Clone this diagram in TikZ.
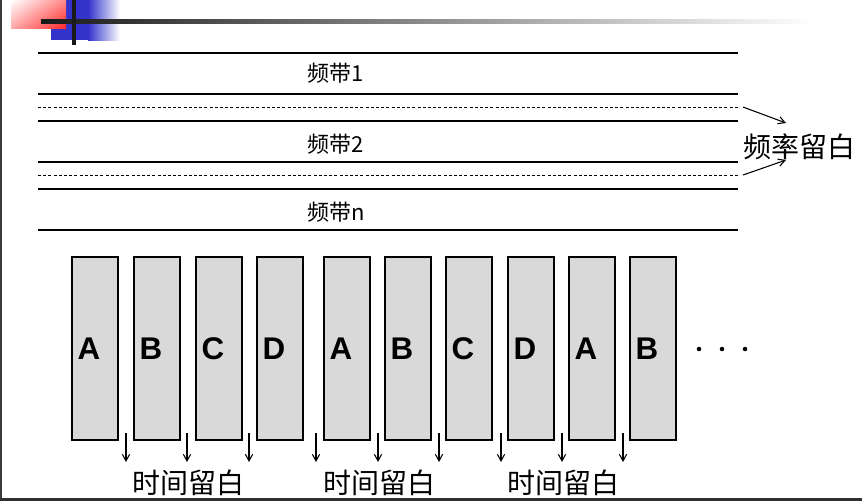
\documentclass[tikz,border=0pt]{standalone}
\usepackage{fontspec}
\setmainfont{Liberation Sans}
\newfontfamily\cjk{Noto Sans CJK SC}
\usetikzlibrary{arrows.meta,shadings}
\definecolor{slotgray}{RGB}{217,217,217}
\definecolor{deco blue}{RGB}{51,51,204}
\definecolor{deco red}{RGB}{255,40,40}
\definecolor{frame gray}{RGB}{60,60,60}
\begin{document}
\begin{tikzpicture}[x=0.75pt,y=-0.75pt,
  bandline/.style={line width=2.2pt,black},
  gapline/.style={line width=0.7pt,black,dash pattern=on 2.2pt off 1.7pt},
  slot/.style={draw=black,line width=1.5pt,fill=slotgray,minimum width=34.5pt,minimum height=137.25pt,inner sep=0pt},
  letter/.style={font=\bfseries\fontsize{23.5pt}{23.5pt}\selectfont,inner sep=0pt},
  bandlbl/.style={font=\cjk\fontsize{16.5pt}{16.5pt}\selectfont,inner sep=0pt},
  biglbl/.style={font=\cjk\fontsize{21pt}{21pt}\selectfont,inner sep=0pt},
  thinarrow/.style={line width=0.8pt,-{Straight Barb[length=5pt,width=5.5pt]}},
]
\useasboundingbox (0,0) rectangle (862,501);
% frame
\fill[frame gray] (0,0) rectangle (2,501);
\fill[frame gray!80!black] (0,498) rectangle (862,501);
% top-left decoration
\fill[deco blue] (51,0) rectangle (88,40);
\shade[left color=deco blue,right color=white] (88,0) rectangle (120,40);
\shade[upper left=white,upper right=deco red!55!white,lower left=deco red!40!white,lower right=deco red] (11,0) rectangle (66,28);
\shade[left color=black!90,middle color=black!55,right color=white] (41,19) rectangle (813,23);
\fill[black!90] (72,0) rectangle (76,45);
% frequency bands
\foreach \y in {53,94,121,162,189,230} \draw[bandline] (38,\y) -- (738,\y);
\foreach \y in {107,175} \draw[gapline] (38,\y) -- (738,\y);
\node[bandlbl] (b1) at (336,73) {频带1};
\node[bandlbl] (b2) at (336,144) {频带2};
\node[bandlbl] (bn) at (336,212) {频带n};
\node[biglbl] (fgap) at (799,147) {频率留白};
\coordinate (g1) at (743,107);
\coordinate (g2) at (743,175);
\coordinate (t1) at (786,123);
\coordinate (t2) at (786,160);
\draw[thinarrow] (g1) -- (t1);
\draw[thinarrow] (g2) -- (t2);
% time slots
\foreach \i/\cx/\t in {1/95/A,2/157/B,3/219/C,4/280/D,5/347/A,6/408/B,7/469/C,8/531/D,9/592/A,10/653/B}{
  \node[slot] (r\i) at (\cx,348.5) {};
  \node[letter] (l\i) at ([xshift=-4.5pt]r\i.center) {\t};
}
\foreach \i/\x in {1/699,2/722,3/745} \fill (\x,349) circle (1.7pt);
% guard time arrows
\foreach \i/\x in {1/126,2/187,3/249,4/316,5/378,6/439,7/501,8/562,9/623}{
  \coordinate (as\i) at (\x,433);
  \coordinate (ae\i) at (\x,462);
  \draw[thinarrow] (as\i) -- (ae\i);
}
\node[biglbl] (tg1) at (188,483) {时间留白};
\node[biglbl] (tg2) at (379,483) {时间留白};
\node[biglbl] (tg3) at (563,483) {时间留白};
\end{tikzpicture}
\end{document}
